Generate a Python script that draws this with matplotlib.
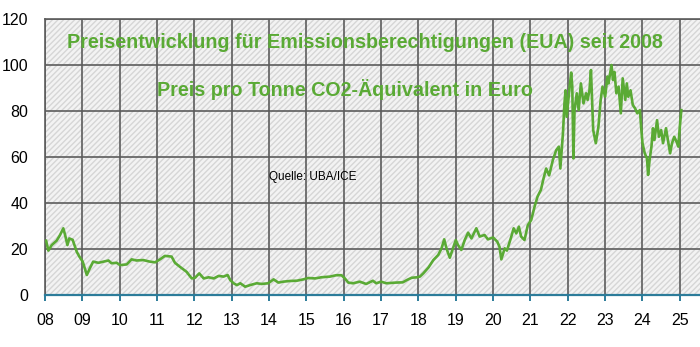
import numpy as np
import matplotlib.pyplot as plt
from matplotlib.patches import Rectangle

# EUA price (Euro per tonne CO2)
years = [2008.03, 2008.09, 2008.18, 2008.31, 2008.40, 2008.49, 2008.54, 2008.60, 2008.65, 2008.74,
         2008.79, 2008.85, 2008.92, 2009.01, 2009.12, 2009.20, 2009.29, 2009.43, 2009.56, 2009.70,
         2009.78, 2009.92, 2010.01, 2010.19, 2010.32, 2010.45, 2010.63, 2010.81, 2010.95, 2011.08,
         2011.21, 2011.39, 2011.48, 2011.61, 2011.79, 2011.93, 2012.02, 2012.13, 2012.25, 2012.38,
         2012.52, 2012.65, 2012.78, 2012.89, 2012.96, 2013.05, 2013.14, 2013.23, 2013.36, 2013.49,
         2013.67, 2013.80, 2013.98, 2014.12, 2014.25, 2014.38, 2014.56, 2014.74, 2014.92, 2015.05,
         2015.23, 2015.40, 2015.63, 2015.80, 2015.94, 2016.03, 2016.12, 2016.25, 2016.43, 2016.60,
         2016.78, 2016.87, 2017.00, 2017.14, 2017.40, 2017.58, 2017.69, 2017.82, 2017.96, 2018.04,
         2018.13, 2018.27, 2018.40, 2018.53, 2018.62, 2018.69, 2018.75, 2018.84, 2018.91, 2019.00,
         2019.06, 2019.15, 2019.24, 2019.33, 2019.42, 2019.55, 2019.64, 2019.77, 2019.86, 2020.00,
         2020.11, 2020.17, 2020.22, 2020.31, 2020.37, 2020.48, 2020.55, 2020.62, 2020.69, 2020.75,
         2020.84, 2020.93, 2021.02, 2021.11, 2021.19, 2021.28, 2021.34, 2021.42, 2021.50, 2021.60,
         2021.69, 2021.76, 2021.80, 2021.87, 2021.91, 2021.94, 2021.97, 2022.04, 2022.09, 2022.12,
         2022.15, 2022.18, 2022.24, 2022.29, 2022.35, 2022.42, 2022.49, 2022.53, 2022.58, 2022.62,
         2022.65, 2022.68, 2022.75, 2022.82, 2022.88, 2022.93, 2023.00, 2023.06, 2023.09, 2023.12,
         2023.17, 2023.21, 2023.25, 2023.30, 2023.36, 2023.42, 2023.47, 2023.54, 2023.58, 2023.62,
         2023.68, 2023.74, 2023.80, 2023.86, 2023.93, 2023.97, 2024.00, 2024.06, 2024.12, 2024.15,
         2024.19, 2024.24, 2024.28, 2024.32, 2024.39, 2024.44, 2024.50, 2024.55, 2024.63, 2024.68,
         2024.74, 2024.79, 2024.85, 2024.91, 2024.96, 2025.00, 2025.04]
prices = [23.6, 19.3, 21.7, 23.6, 26.0, 29.0, 26.0, 21.7, 24.6, 24.0,
          21.7, 18.8, 16.7, 14.5, 8.7, 11.6, 14.5, 14.0, 14.5, 15.0,
          13.8, 14.0, 13.0, 13.3, 15.5, 15.0, 15.2, 14.5, 14.2, 15.5,
          17.0, 16.7, 14.0, 12.3, 10.1, 7.2, 7.5, 9.4, 7.2, 7.7,
          7.2, 8.3, 8.0, 8.7, 6.5, 5.1, 4.3, 5.1, 3.6, 4.3,
          5.1, 4.8, 5.1, 6.8, 5.4, 5.8, 6.1, 6.2, 6.8, 7.4,
          7.2, 7.7, 8.0, 8.6, 8.6, 7.2, 5.4, 5.1, 5.8, 4.8,
          6.2, 5.1, 5.8, 5.1, 5.4, 5.5, 6.5, 7.5, 7.7, 8.0,
          9.4, 12.0, 15.2, 17.4, 20.3, 24.2, 20.3, 16.2, 19.6, 23.9,
          21.7, 19.6, 23.9, 27.1, 24.6, 29.0, 25.4, 26.1, 24.2, 25.0,
          23.2, 21.0, 15.5, 20.3, 19.3, 25.0, 29.0, 26.8, 29.7, 25.4,
          23.9, 30.4, 32.6, 38.4, 42.8, 45.7, 50.0, 55.0, 52.0, 58.7,
          63.0, 64.5, 55.0, 70.3, 83.3, 89.0, 77.5, 89.0, 96.7, 90.6,
          59.4, 80.4, 87.7, 80.4, 92.0, 83.3, 87.7, 84.8, 89.0, 97.8,
          84.8, 71.7, 66.0, 73.2, 84.8, 90.6, 86.2, 95.0, 92.0, 95.0,
          100.0, 93.5, 97.0, 87.7, 90.6, 79.0, 94.2, 84.8, 92.0, 86.2,
          89.0, 82.6, 81.2, 79.0, 80.4, 71.7, 66.0, 61.6, 59.4, 52.2,
          58.7, 64.5, 72.5, 67.4, 76.0, 68.8, 71.7, 66.0, 72.5, 67.4,
          61.6, 66.0, 68.8, 66.7, 64.5, 73.2, 80.4]

xticks = np.arange(2008, 2026)
xlabels = ["%02d" % (y % 100) for y in xticks]
yticks = [0, 20, 40, 60, 80, 100, 120]

title1 = "Preisentwicklung für Emissionsberechtigungen (EUA) seit 2008"
title2 = "Preis pro Tonne CO2-Äquivalent in Euro"
source = "Quelle: UBA/ICE"

plt.rcParams['font.family'] = ['Liberation Sans', 'DejaVu Sans']
plt.rcParams['hatch.linewidth'] = 1.0

green = '#5aaa35'
teal = '#2c7c9a'
gridgray = '#5c5c5c'

fig = plt.figure(figsize=(7, 3.47), dpi=100)
ax = fig.add_axes([45/700, 1 - 295/347, 1 - 45/700, (295 - 19)/347])

# hatched light-gray background
ax.add_patch(Rectangle((0, 0), 1, 1, transform=ax.transAxes, facecolor='#f3f3f3',
                       edgecolor='#d6d6d6', hatch='//////', linewidth=0, zorder=0))

ax.plot(years, prices, color=green, linewidth=1.9, zorder=3)

ax.set_xlim(2008, 2025.54)
ax.set_ylim(0, 120)
ax.set_xticks(xticks)
ax.set_xticklabels(xlabels)
ax.set_yticks(yticks)

ax.grid(True, color=gridgray, linewidth=1.2)
ax.set_axisbelow(False)
for line in ax.get_xgridlines() + ax.get_ygridlines():
    line.set_zorder(1)

ax.spines['right'].set_visible(False)
ax.spines['top'].set_color(gridgray)
ax.spines['top'].set_linewidth(1.2)
ax.spines['left'].set_color(gridgray)
ax.spines['left'].set_linewidth(1.2)
ax.spines['bottom'].set_color(teal)
ax.spines['bottom'].set_linewidth(1.6)
ax.spines['bottom'].set_zorder(4)

ax.tick_params(axis='x', colors=teal, length=4, width=1.4, direction='out', pad=9,
               labelcolor='black', labelsize=11.5)
ax.tick_params(axis='y', length=0, pad=12, labelsize=11.5)

# texts placed in pixel coordinates (origin top-left)
fig.text(365 / 700, 1 - 43 / 347, title1, fontsize=14.2, fontweight='bold', color=green,
         ha='center', va='center')
fig.text(345 / 700, 1 - 90 / 347, title2, fontsize=14.2, fontweight='bold', color=green,
         ha='center', va='center')
fig.text(269 / 700, 1 - 177 / 347, source, fontsize=8.5, color='black', ha='left', va='center')

fig.savefig('out.png', dpi=100)
